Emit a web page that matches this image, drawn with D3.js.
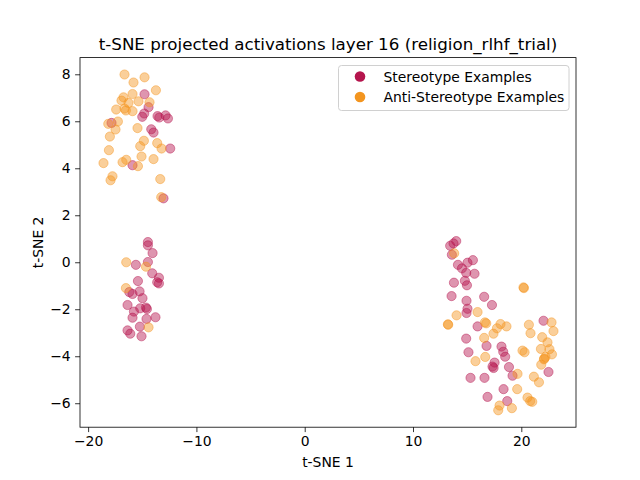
<!DOCTYPE html>
<html>
<head>
<meta charset="utf-8">
<script src="https://cdn.jsdelivr.net/npm/d3@7"></script>
<style>
  body { margin: 0; background: #fff; }
  svg text { font-family: "DejaVu Sans", sans-serif; fill: #000; }
</style>
</head>
<body>
<div id="chart"></div>
<script>
// series names and colours
var seriesNames = ["Stereotype Examples", "Anti-Stereotype Examples"];
var seriesColors = ["#b5154d", "#f3951f"];

// t-SNE coordinates: [x, y]
var stereotypePoints = [
  [-14.79, 7.15], [-14.42, 6.60], [-14.82, 6.33], [-15.00, 6.19], [-13.59, 6.22],
  [-13.43, 6.16], [-12.85, 6.25], [-12.63, 6.12], [-17.84, 5.93], [-14.17, 5.66],
  [-13.96, 5.52], [-12.42, 4.84], [-15.90, 4.13], [-13.04, 2.72],
  [-14.48, 0.86], [-14.48, 0.72], [-14.05, 0.39], [-14.48, 0.01], [-15.59, -0.11],
  [-14.08, -0.47], [-13.46, -0.66], [-13.62, -0.85], [-13.46, -0.90], [-15.40, -0.80],
  [-16.20, -1.27], [-15.90, -1.35], [-15.25, -1.24], [-14.98, -1.53], [-16.36, -1.82],
  [-15.77, -2.10], [-15.90, -2.36], [-15.19, -1.96], [-14.66, -1.93], [-14.57, -1.99],
  [-14.61, -2.41], [-13.78, -2.34], [-15.22, -2.74], [-16.36, -2.90], [-16.11, -3.04],
  [-15.07, -3.15],
  [13.99, 0.90], [13.74, 0.80], [13.43, 0.70], [13.59, 0.32], [14.15, -0.11],
  [15.03, -0.02], [15.53, 0.09], [14.52, -0.26], [14.91, -0.45], [15.68, -0.49],
  [13.78, -0.87], [14.79, -0.79], [14.98, -0.98], [13.56, -1.44], [16.57, -1.47],
  [14.94, -1.64], [17.29, -1.82], [15.03, -1.98], [14.94, -2.16], [22.05, -2.49],
  [15.96, -2.73], [14.91, -3.25], [16.79, -3.56], [18.17, -3.59], [18.33, -3.81],
  [18.51, -4.02], [15.12, -3.83], [17.53, -4.27], [17.34, -4.44], [17.44, -4.50],
  [18.86, -4.46], [19.19, -4.83], [22.51, -4.67], [15.31, -4.92], [16.60, -4.92],
  [18.36, -5.40], [16.88, -5.73], [18.70, -5.91]
];

var antiStereotypePoints = [
  [-16.64, 7.99], [-14.79, 7.87], [-15.81, 7.65], [-13.74, 7.32], [-15.90, 7.16],
  [-16.73, 7.02], [-16.92, 6.88], [-16.27, 6.78], [-15.35, 6.85], [-14.33, 6.81],
  [-17.41, 6.50], [-16.64, 6.54], [-16.51, 6.46], [-15.90, 6.43], [-18.14, 5.89],
  [-17.25, 5.99], [-17.47, 5.65], [-15.44, 5.71], [-17.99, 5.35], [-14.85, 5.17],
  [-15.19, 4.94], [-13.62, 5.07], [-13.22, 4.84], [-18.08, 4.77], [-15.07, 4.50],
  [-13.96, 4.39], [-18.58, 4.22], [-16.48, 4.36], [-16.82, 4.26], [-15.40, 4.09],
  [-17.75, 3.66], [-17.93, 3.49], [-13.34, 3.54], [-13.25, 2.77],
  [-16.48, 0.00], [-14.66, -0.19], [-16.51, -1.10], [-14.42, -2.77],
  [13.80, 0.38], [20.20, -1.07], [20.24, -1.10], [14.02, -2.26], [13.22, -2.64],
  [13.25, -2.66], [15.96, -2.12], [16.64, -2.56], [16.76, -2.60], [18.08, -2.63],
  [17.75, -2.81], [17.43, -3.04], [18.63, -2.73], [20.70, -2.66], [22.79, -2.56],
  [20.85, -3.02], [22.97, -2.93], [16.57, -3.22], [21.93, -3.19], [22.42, -3.41],
  [21.81, -3.69], [22.60, -3.70], [22.83, -3.92], [20.11, -3.76], [20.30, -3.83],
  [16.67, -4.03], [22.23, -4.03], [22.09, -4.13], [22.12, -4.10], [15.77, -4.21],
  [21.84, -4.36], [19.65, -4.75], [21.16, -4.87], [21.63, -5.11], [19.62, -5.40],
  [20.57, -5.76], [20.82, -5.91], [21.01, -5.94], [17.99, -6.10], [17.87, -6.30],
  [19.13, -6.21]
];

var xTicks = [-20, -10, 0, 10, 20];
var yTicks = [-6, -4, -2, 0, 2, 4, 6, 8];

var title = "t-SNE projected activations layer 16 (religion_rlhf_trial)";
var xLabel = "t-SNE 1";
var yLabel = "t-SNE 2";

// layout (matplotlib default figure geometry)
var W = 640, H = 480;
var margin = { top: 57.6, right: 64, bottom: 52.8, left: 80 };
var width = W - margin.left - margin.right,
    height = H - margin.top - margin.bottom;

var svg = d3.select("#chart").append("svg")
  .attr("width", W)
  .attr("height", H);

var g = svg.append("g")
  .attr("transform", "translate(" + margin.left + "," + margin.top + ")");

var x = d3.scaleLinear().domain([-20.75, 25.05]).range([0, width]);
var y = d3.scaleLinear().domain([-7.02, 8.71]).range([height, 0]);

// points, stereotype drawn first so anti-stereotype sits on top
var series = [stereotypePoints, antiStereotypePoints];
series.forEach(function(pts, i) {
  g.append("g")
    .selectAll("circle")
    .data(pts)
    .enter().append("circle")
    .attr("cx", function(d) { return x(d[0]); })
    .attr("cy", function(d) { return y(d[1]); })
    .attr("r", 4.6)
    .attr("fill", seriesColors[i])
    .attr("fill-opacity", 0.45)
    .attr("stroke", seriesColors[i])
    .attr("stroke-opacity", 0.45)
    .attr("stroke-width", 1);
});

// axes
var xAxis = g.append("g")
  .attr("transform", "translate(0," + height + ")")
  .call(d3.axisBottom(x).tickValues(xTicks).tickSize(4.9).tickPadding(4.5).tickSizeOuter(0));
var yAxis = g.append("g")
  .call(d3.axisLeft(y).tickValues(yTicks).tickSize(4.9).tickPadding(4.5).tickSizeOuter(0));

[xAxis, yAxis].forEach(function(a) {
  a.select(".domain").remove();
  a.selectAll("text").style("font-size", "13.9px").style("font-family", "DejaVu Sans, sans-serif");
  a.selectAll("line").attr("stroke", "#000").attr("stroke-width", 0.8);
});

// frame
g.append("rect")
  .attr("width", width)
  .attr("height", height)
  .attr("fill", "none")
  .attr("stroke", "#000")
  .attr("stroke-width", 0.8);

// labels
svg.append("text")
  .attr("x", margin.left + width / 2)
  .attr("y", 49.5)
  .attr("text-anchor", "middle")
  .style("font-size", "16.7px")
  .text(title);

svg.append("text")
  .attr("x", margin.left + width / 2)
  .attr("y", 466.5)
  .attr("text-anchor", "middle")
  .style("font-size", "13.9px")
  .text(xLabel);

svg.append("text")
  .attr("transform", "translate(43," + (margin.top + height / 2) + ") rotate(-90)")
  .attr("text-anchor", "middle")
  .style("font-size", "13.9px")
  .text(yLabel);

// legend
var legend = svg.append("g").attr("transform", "translate(338.5,65.5)");
legend.append("rect")
  .attr("width", 230.5)
  .attr("height", 45)
  .attr("rx", 3)
  .attr("fill", "#fff")
  .attr("fill-opacity", 0.8)
  .attr("stroke", "#d0d0d0")
  .attr("stroke-width", 1);

seriesNames.forEach(function(name, i) {
  var row = legend.append("g").attr("transform", "translate(0," + (11 + i * 20.5) + ")");
  row.append("circle")
    .attr("cx", 21.5)
    .attr("cy", 0)
    .attr("r", 5.3)
    .attr("fill", seriesColors[i]);
  row.append("text")
    .attr("x", 45)
    .attr("y", 5)
    .style("font-size", "13.9px")
    .text(name);
});
</script>
</body>
</html>
